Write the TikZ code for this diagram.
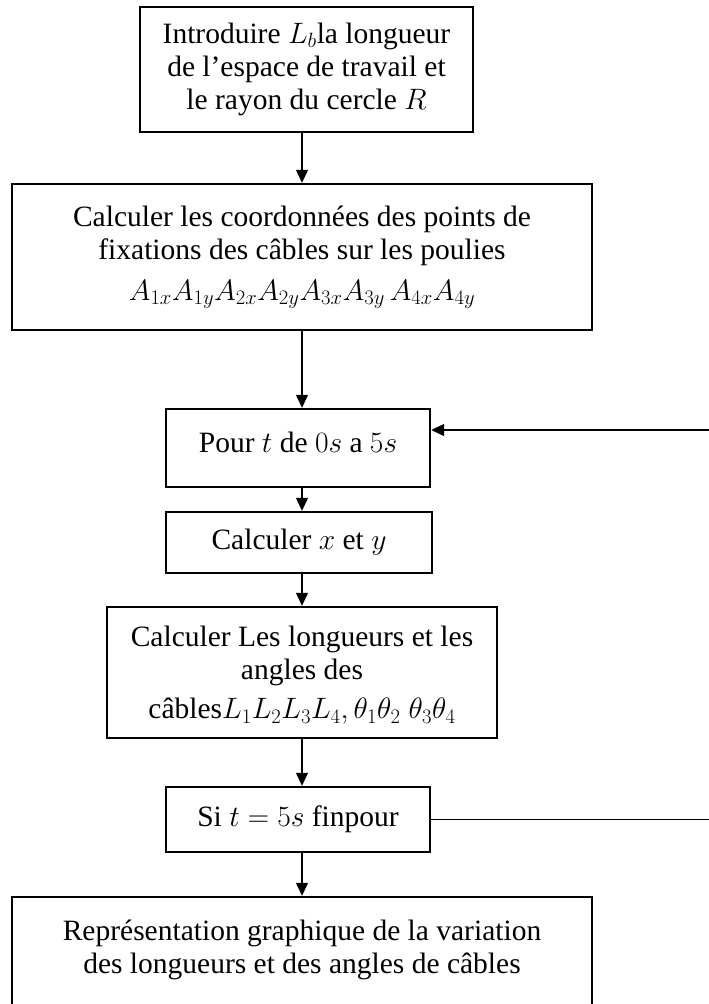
\RequirePackage{fix-cm}
\documentclass[tikz,border=0pt]{standalone}
\usepackage{fontspec}
\setmainfont{Liberation Serif}
\usetikzlibrary{arrows.meta}
\begin{document}
\begin{tikzpicture}[x=1pt,y=-1pt,
  every node/.style={font=\fontsize{29.5}{33}\selectfont},
  box/.style={draw=black, line width=2.4pt, fill=white, inner sep=0pt, align=center},
  arr/.style={line width=1.2pt, -{Triangle[length=13pt,width=12pt]}},
  conn/.style={line width=1.2pt}]
\useasboundingbox (0,0) rectangle (709,1004);
\fill[white] (0,0) rectangle (709,1004);
\coordinate (ax) at (302,0);
\coordinate (re) at (730,0);
\node[box, minimum width=333pt, minimum height=125pt] (b1) at (306.5,69.5)
  {Introduire $L_b$la longueur\\de l’espace de travail et\\le rayon du cercle $R$};
\node[box, minimum width=580pt, minimum height=146pt] (b2) at (302,257)
  {Calculer les coordonnées des points de\\fixations des câbles sur les poulies\\[8pt]$A_{1x}A_{1y}A_{2x}A_{2y}A_{3x}A_{3y}\,A_{4x}A_{4y}$};
\node[box, minimum width=264pt, minimum height=78pt] (b3) at (298,448)
  {\raisebox{11pt}{Pour $t$ de $0s$ a $5s$}};
\node[box, minimum width=266pt, minimum height=61pt] (b4) at (299,542.5)
  {Calculer $x$ et $y$};
\node[box, minimum width=390pt, minimum height=131pt, text depth=0pt] (b5) at (302,672.5)
  {\raisebox{-4pt}{Calculer Les longueurs et les}\\\raisebox{-4pt}{angles des}\\[10pt]câbles$L_1L_2L_3L_4,\theta_1\theta_2\;\theta_3\theta_4$};
\node[box, minimum width=264pt, minimum height=65pt] (b6) at (298,819.5)
  {Si $t=5s$ finpour};
\node[box, minimum width=580pt, minimum height=143pt] (b7) at (302,968.5)
  {Représentation graphique de la variation\\des longueurs et des angles de câbles\\\strut};
\draw[arr] (b1.south -| ax) -- (b2.north -| ax);
\draw[arr] (b2.south -| ax) -- (b3.north -| ax);
\draw[arr] (b3.south -| ax) -- (b4.north -| ax);
\draw[arr] (b4.south -| ax) -- (b5.north -| ax);
\draw[arr] (b5.south -| ax) -- (b6.north -| ax);
\draw[arr] (b6.south -| ax) -- (b7.north -| ax);
\draw[arr] (b6.east) -- (b6.east -| re) |- ([yshift=18pt]b3.east);
\end{tikzpicture}
\end{document}
